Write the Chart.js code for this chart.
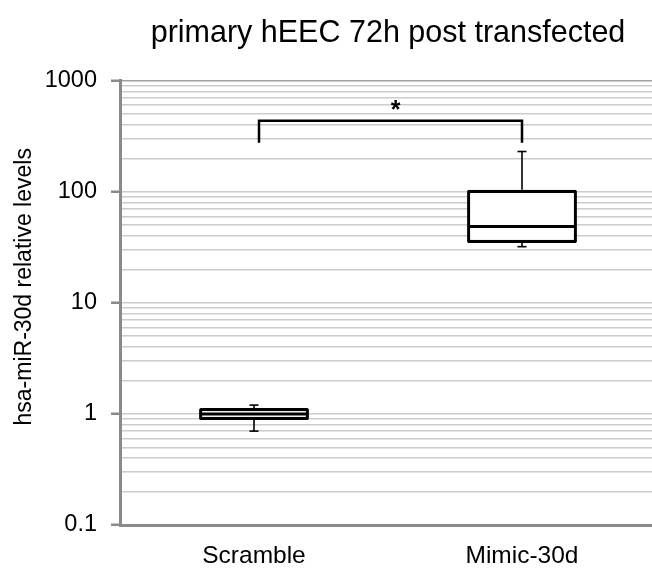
<!DOCTYPE html>
<html>
<head>
<meta charset="utf-8">
<script src="https://cdn.jsdelivr.net/npm/chart.js@4/dist/chart.umd.min.js"></script>
<style>
  html, body { margin: 0; padding: 0; background: #fff; overflow: hidden; }
  #wrap { width: 656px; height: 568px; }
</style>
</head>
<body>
<div id="wrap"><canvas id="c" width="656" height="568"></canvas></div>
<script>
// ---- data ----
const categories = ['Scramble', 'Mimic-30d'];
const minVals    = [0.70, 32];
const q1Vals     = [0.88, 34.5];
const medianVals = [1.00, 48.7];
const q3Vals     = [1.13, 104];
const maxVals    = [1.20, 230];
// significance bracket (values on the y axis)
const bracketTop = 436;
const bracketLegBottom = 276;
const starValue = 620;
const starText = '*';
// y axis ticks
const majorTicks = [0.1, 1, 10, 100, 1000];
const majorTickLabels = ['0.1', '1', '10', '100', '1000'];
const minorMultipliers = [2, 3, 4, 5, 6, 7, 8, 9];

const titleText = 'primary hEEC 72h post transfected';
const yTitleText = 'hsa-miR-30d relative levels';

const FONT = "'Liberation Sans', Arial, sans-serif";

const allTicks = [];
majorTicks.forEach((m, i) => {
  allTicks.push({ value: m, major: true });
  if (i < majorTicks.length - 1) minorMultipliers.forEach(k => allTicks.push({ value: +(m * k).toPrecision(3), major: false }));
});

const boxExtras = {
  id: 'boxExtras',
  afterDatasetsDraw(chart) {
    const { ctx, scales: { x, y } } = chart;
    const meta = chart.getDatasetMeta(0);
    const seg = (x1, y1, x2, y2) => { ctx.beginPath(); ctx.moveTo(x1, y1); ctx.lineTo(x2, y2); ctx.stroke(); };
    ctx.save();
    ctx.strokeStyle = '#000';
    ctx.lineCap = 'butt';
    categories.forEach((c, i) => {
      const bar = meta.data[i];
      const cx = x.getPixelForValue(i);
      const half = bar.width / 2;
      const yMed = y.getPixelForValue(medianVals[i]);
      const yQ1 = y.getPixelForValue(q1Vals[i]);
      const yQ3 = y.getPixelForValue(q3Vals[i]);
      const yMin = y.getPixelForValue(minVals[i]);
      const yMax = y.getPixelForValue(maxVals[i]);
      ctx.lineWidth = 1.6;
      seg(cx, yQ3, cx, yMax);
      seg(cx - 4.5, yMax, cx + 4.5, yMax);
      seg(cx, yQ1, cx, yMin);
      seg(cx - 4.5, yMin, cx + 4.5, yMin);
      ctx.lineWidth = 3;
      seg(cx - half + 2, yMed, cx + half - 2, yMed);
    });
    // bracket
    const xa = x.getPixelForValue(0) + 5;
    const xb = x.getPixelForValue(1);
    const yt = y.getPixelForValue(bracketTop);
    const yl = y.getPixelForValue(bracketLegBottom);
    ctx.lineWidth = 2.5;
    ctx.lineJoin = 'miter';
    ctx.beginPath();
    ctx.moveTo(xa, yl); ctx.lineTo(xa, yt); ctx.lineTo(xb, yt); ctx.lineTo(xb, yl);
    ctx.stroke();
    ctx.fillStyle = '#000';
    ctx.font = 'bold 25px ' + FONT;
    ctx.textAlign = 'center';
    ctx.textBaseline = 'alphabetic';
    ctx.fillText(starText, (xa + xb) / 2 + 5, y.getPixelForValue(starValue) + 14);
    ctx.restore();
  },
  afterDraw(chart) {
    // rotated y-axis title
    const { ctx, chartArea } = chart;
    ctx.save();
    ctx.fillStyle = '#000';
    ctx.font = '23px ' + FONT;
    ctx.textAlign = 'center';
    ctx.textBaseline = 'middle';
    ctx.translate(25, (chartArea.top + chartArea.bottom) / 2 - 16);
    ctx.rotate(-Math.PI / 2);
    ctx.fillText(yTitleText, 0, 0);
    ctx.restore();
  }
};

new Chart(document.getElementById('c'), {
  type: 'bar',
  data: {
    labels: categories,
    datasets: [{
      data: categories.map((c, i) => [q1Vals[i], q3Vals[i]]),
      backgroundColor: '#ffffff',
      borderColor: '#000000',
      borderWidth: 3.2,
      borderRadius: 1.5,
      borderSkipped: false,
      barPercentage: 0.41,
      categoryPercentage: 1
    }]
  },
  options: {
    responsive: false,
    devicePixelRatio: 1,
    animation: false,
    layout: { padding: 0 },
    plugins: {
      legend: { display: false },
      tooltip: { enabled: false },
      title: {
        display: true,
        text: titleText,
        fullSize: false,
        color: '#000',
        font: { family: FONT, size: 30.5, weight: 'normal' },
        padding: { top: 15, bottom: 29 }
      }
    },
    scales: {
      x: {
        type: 'category',
        grid: { display: false, drawTicks: false },
        border: { display: true, color: '#8a8a8a', width: 3 },
        ticks: { color: '#000', font: { family: FONT, size: 24.5 }, padding: 17, maxRotation: 0 },
        afterFit(scale) { scale.height = 43; }
      },
      y: {
        type: 'logarithmic',
        min: 0.1,
        max: 1000,
        afterBuildTicks(scale) { scale.ticks = allTicks.map(t => ({ value: t.value, major: t.major })); },
        ticks: {
          autoSkip: false,
          color: '#000',
          font: { family: FONT, size: 23.5 },
          padding: 14,
          callback(value) {
            const idx = majorTicks.indexOf(value);
            return idx >= 0 ? majorTickLabels[idx] : '';
          }
        },
        grid: {
          display: true,
          drawTicks: true,
          tickLength: 9,
          color: ctx => (ctx.tick && ctx.tick.value === 1000 ? '#a0a0a0' : '#cccccc'),
          lineWidth: 1.5,
          tickColor: ctx => (ctx.tick && majorTicks.includes(ctx.tick.value) ? '#8a8a8a' : 'rgba(0,0,0,0)'),
          tickWidth: 2.5
        },
        border: { display: true, color: '#8a8a8a', width: 3 },
        title: { display: false },
        afterFit(scale) { scale.width = 120; }
      }
    }
  },
  plugins: [boxExtras]
});
</script>
</body>
</html>
